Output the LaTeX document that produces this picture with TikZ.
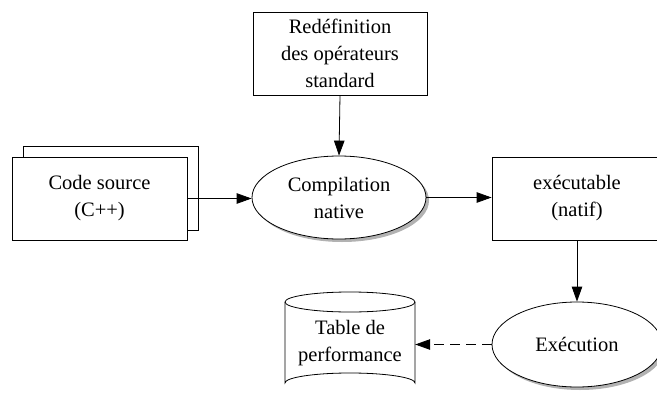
\documentclass[tikz,border=0pt]{standalone}
\usepackage{fontspec}
\setmainfont{Liberation Serif}
\usetikzlibrary{shapes.geometric,arrows.meta,shadows}
\begin{document}
\begin{tikzpicture}[x=1pt,y=-1pt,
  txt/.style={font=\fontsize{20.5}{27}\selectfont, align=center, inner sep=0pt},
  boxnode/.style={txt, draw, fill=white, line width=0.8pt},
  ellnode/.style={txt, ellipse, draw, fill=white, line width=0.8pt,
    drop shadow={shadow xshift=3pt, shadow yshift=-3pt, fill=black!30, opacity=1}},
  arr/.style={line width=0.8pt, -{Triangle[length=15pt,width=10.5pt]}},
  darr/.style={arr, dash pattern=on 10pt off 6pt}]
\useasboundingbox (0,0) rectangle (657,394);
\clip (0,0) rectangle (657,394);
% top box
\node[boxnode, minimum width=174pt, minimum height=83pt] (redef) at (340,53.5)
  {Redéfinition\\des opérateurs\\standard};
% stacked source boxes
\node[boxnode, minimum width=175pt, minimum height=84pt] (back) at (110.5,188) {};
\node[boxnode, minimum width=175pt, minimum height=83pt] (src) at (99.5,198.5)
  {Code source\\(C++)};
% compilation
\node[ellnode, minimum width=174pt, minimum height=83pt] (comp) at (339,197.5)
  {Compilation\\native};
% executable
\node[boxnode, minimum width=170pt, minimum height=83pt] (exe) at (577,198.5)
  {exécutable\\(natif)};
% execution
\node[ellnode, minimum width=170pt, minimum height=85pt] (run) at (577,344.5)
  {Exécution};
% cylinder
\draw[line width=0.8pt, fill=white] (285,302) -- (285,383)
  arc[start angle=180, end angle=360, x radius=65, y radius=10] -- (415,302)
  arc[start angle=0, end angle=-180, x radius=65, y radius=10] -- cycle;
\draw[line width=0.8pt] (285,302) arc[start angle=180, end angle=0, x radius=65, y radius=10];
\node[txt, minimum width=130pt, minimum height=60pt] (tbl) at (350,343)
  {Table de\\performance};
% connectors
\draw[arr] (redef.south) -- (comp.north);
\draw[arr] (src.east) -- (comp.west |- src.east);
\draw[arr] (comp.east) -- (exe.west |- comp.east);
\draw[arr] (exe.south) -- (run.north);
\draw[darr] (run.west) -- (tbl.east |- run.west);
\end{tikzpicture}
\end{document}
